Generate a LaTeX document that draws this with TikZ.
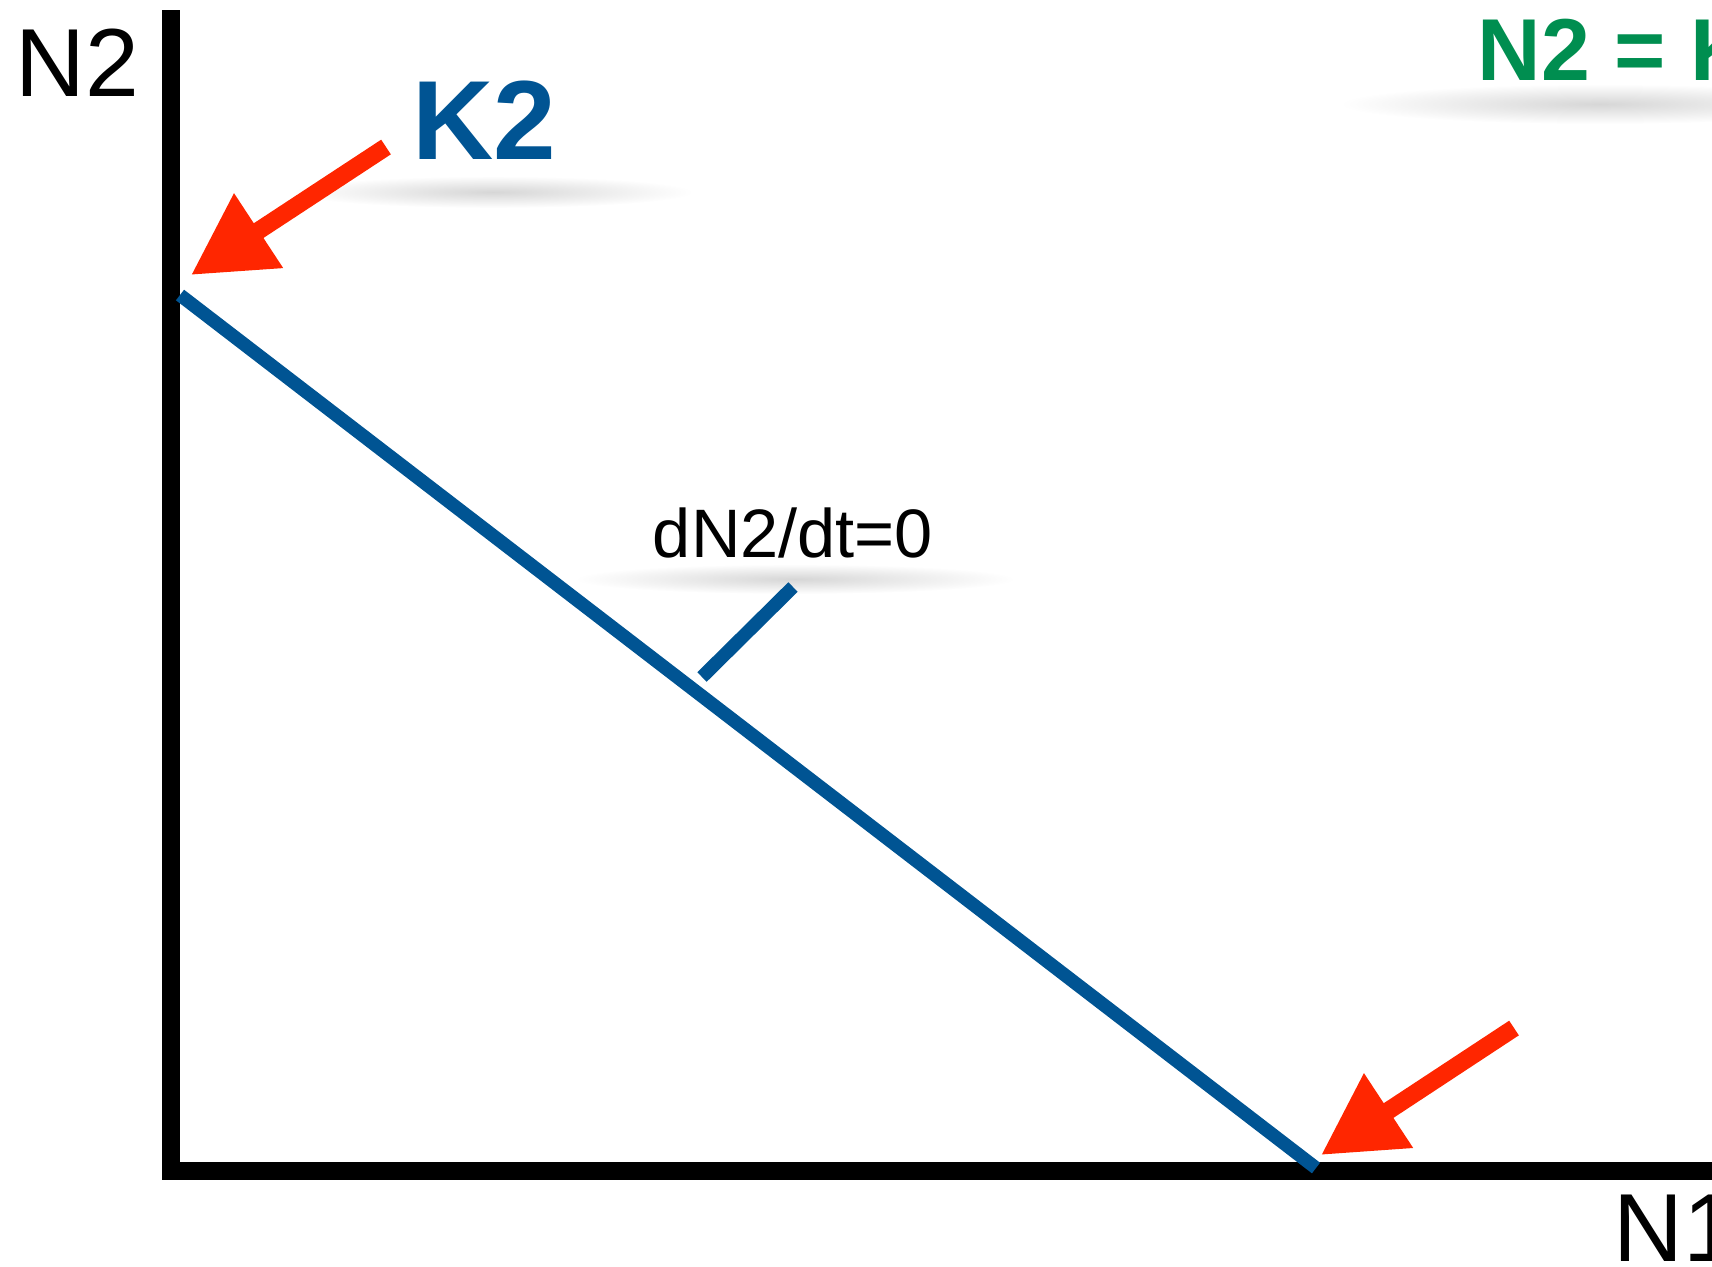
\documentclass[tikz,border=0pt]{standalone}
\usepackage{fontspec}
\setmainfont{Liberation Sans}
\usetikzlibrary{arrows.meta}

\definecolor{lineblue}{RGB}{0,84,147}
\definecolor{arrowred}{RGB}{255,38,0}
\definecolor{labelgreen}{RGB}{0,142,80}

\begin{document}
\begin{tikzpicture}[x=0.01cm,y=-0.01cm,
  axis/.style={line width=4.9pt,line join=miter},
  isocline/.style={line width=3.8pt,lineblue},
  pointer/.style={-{Triangle[length=23pt,width=24pt]},line width=5pt,arrowred},
  lbl/.style={inner sep=0pt,font=\fontsize{27.5}{31}\selectfont},
  txtshadow/.style={inner color=black!16,outer color=white}]

\useasboundingbox (0,0) rectangle (1712,1266);
\clip (0,0) rectangle (1712,1266);

% soft shadows under the labels
\shade[txtshadow] (493,192) ellipse [x radius=2cm,y radius=0.16cm];
\shade[txtshadow] (1600,104) ellipse [x radius=2.6cm,y radius=0.2cm];
\shade[txtshadow] (795,579) ellipse [x radius=2.2cm,y radius=0.15cm];

\coordinate (ytop) at (171,10);
\coordinate (origin) at (171,1171);
\coordinate (xend) at (1730,1171);

\coordinate (k2pt) at (180,295);
\coordinate (k1pt) at (1316,1168);
\coordinate (tickfoot) at (702,677);
\coordinate (ticktop) at (793,587);

\coordinate (tail1) at (386,147);
\coordinate (tip1) at (191,275);
\coordinate (tail2) at (1514,1028);
\coordinate (tip2) at (1321,1155);

\node[lbl,anchor=base west] (ylab) at (15,96) {N2};
\node[lbl,anchor=base west] (xlab) at (1613,1261) {N1};
\node[lbl,anchor=base west,lineblue,font=\bfseries\fontsize{32}{36}\selectfont] (k2lab) at (412,159) {K2};
\node[lbl,anchor=base west,labelgreen,font=\bfseries\fontsize{25}{30}\selectfont] (eqlab) at (1477,80) {N2 = K2};
\node[lbl,anchor=base,font=\fontsize{19.5}{23}\selectfont] (slab) at (793,557) {dN2/dt=0};

\draw[axis] (ytop) -- (origin) -- (xend);
\draw[isocline] (k2pt) -- (k1pt);
\draw[isocline] (tickfoot) -- (ticktop);

\draw[pointer] (tail1) -- (tip1);
\draw[pointer] (tail2) -- (tip2);
\end{tikzpicture}
\end{document}
